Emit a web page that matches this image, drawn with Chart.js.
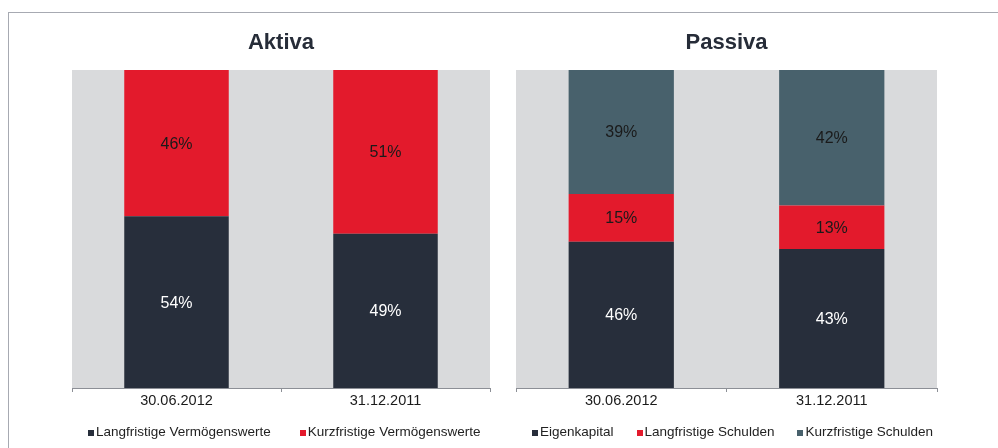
<!DOCTYPE html>
<html>
<head>
<meta charset="utf-8">
<script src="https://cdn.jsdelivr.net/npm/chart.js@4/dist/chart.umd.min.js"></script>
<style>
  html, body { margin: 0; padding: 0; background: #ffffff; }
  body { width: 998px; height: 448px; position: relative; overflow: hidden; font-family: "Liberation Sans", Arial, sans-serif; }
  #frame { position: absolute; left: 8px; top: 12px; width: 990px; height: 436px; border-top: 1px solid #a7aab2; border-left: 1px solid #a7aab2; box-sizing: border-box; }
  canvas { position: absolute; top: 0; }
  #c1 { left: 0; }
  #c2 { left: 500px; }
  .legend { position: absolute; top: 424px; display: flex; align-items: baseline; font-size: 13.5px; color: #222; white-space: nowrap; }
  .legend .item { display: flex; align-items: baseline; }
  .legend .box { display: inline-block; width: 6px; height: 6px; margin-right: 2px; }
  #l1 { left: 88px; gap: 29px; }
  #l2 { left: 532px; gap: 23px; }
</style>
</head>
<body>
<div id="frame"></div>
<canvas id="c1" width="500" height="448"></canvas>
<canvas id="c2" width="498" height="448"></canvas>
<div class="legend" id="l1"></div>
<div class="legend" id="l2"></div>
<script>
// ---- data ----
const categories = ['30.06.2012', '31.12.2011'];

const aktivaTitle = 'Aktiva';
const aktivaNames = ['Langfristige Vermögenswerte', 'Kurzfristige Vermögenswerte'];
const aktivaLangfristig = [54, 48.5];
const aktivaKurzfristig = [46, 51.5];
const aktivaLangfristigLabels = ['54%', '49%'];
const aktivaKurzfristigLabels = ['46%', '51%'];

const passivaTitle = 'Passiva';
const passivaNames = ['Eigenkapital', 'Langfristige Schulden', 'Kurzfristige Schulden'];
const passivaEigenkapital = [46, 43.7];
const passivaLangfristig = [15, 13.7];
const passivaKurzfristig = [39, 42.6];
const passivaEigenkapitalLabels = ['46%', '43%'];
const passivaLangfristigLabels = ['15%', '13%'];
const passivaKurzfristigLabels = ['39%', '42%'];

// ---- styles ----
const DARK = '#272e3b';
const RED = '#e31a2c';
const TEAL = '#48616c';
const PLOT_BG = '#d9dadc';
const AXIS = '#8c8f96';
const FONT = '"Liberation Sans", Arial, sans-serif';

const plotBg = {
  id: 'plotBg',
  beforeDraw(chart) {
    const a = chart.chartArea, ctx = chart.ctx;
    ctx.save();
    ctx.fillStyle = PLOT_BG;
    ctx.fillRect(a.left, a.top, a.right - a.left, a.bottom - a.top);
    ctx.restore();
  }
};

const barLabels = {
  id: 'barLabels',
  afterDatasetsDraw(chart) {
    const ctx = chart.ctx;
    ctx.save();
    ctx.font = '16px ' + FONT;
    ctx.textAlign = 'center';
    ctx.textBaseline = 'middle';
    chart.data.datasets.forEach((ds, di) => {
      const meta = chart.getDatasetMeta(di);
      meta.data.forEach((el, i) => {
        const p = el.getProps(['x', 'y', 'base'], true);
        ctx.fillStyle = ds.labelColor;
        ctx.fillText(ds.valueLabels[i], p.x, (p.y + p.base) / 2 + 1);
      });
    });
    ctx.restore();
  }
};

function makeChart(id, title, datasets, padL, padR) {
  return new Chart(document.getElementById(id), {
    type: 'bar',
    data: { labels: categories, datasets },
    plugins: [plotBg, barLabels],
    options: {
      responsive: false,
      animation: false,
      devicePixelRatio: 1,
      layout: { padding: { left: padL, right: padR, top: 0, bottom: 38.6 } },
      plugins: {
        legend: { display: false },
        tooltip: { enabled: false },
        title: {
          display: true, text: title, color: '#262c38',
          font: { family: FONT, size: 22, weight: 'bold' },
          padding: { top: 29.8, bottom: 13.8 }
        }
      },
      datasets: { bar: { categoryPercentage: 1, barPercentage: 0.5, borderWidth: 0 } },
      scales: {
        x: {
          stacked: true,
          grid: { offset: true, drawOnChartArea: false, drawTicks: true, tickLength: 4, color: AXIS, lineWidth: 1 },
          border: { display: true, color: AXIS, width: 1 },
          ticks: { padding: 0, color: '#1a1a1a', font: { family: FONT, size: 14.5 } }
        },
        y: { stacked: true, display: false, min: 0, max: 100 }
      }
    }
  });
}

makeChart('c1', aktivaTitle, [
  { label: aktivaNames[0], data: aktivaLangfristig, backgroundColor: DARK, valueLabels: aktivaLangfristigLabels, labelColor: '#ffffff' },
  { label: aktivaNames[1], data: aktivaKurzfristig, backgroundColor: RED, valueLabels: aktivaKurzfristigLabels, labelColor: '#1a1a1a' }
], 72, 10);

makeChart('c2', passivaTitle, [
  { label: passivaNames[0], data: passivaEigenkapital, backgroundColor: DARK, valueLabels: passivaEigenkapitalLabels, labelColor: '#ffffff' },
  { label: passivaNames[1], data: passivaLangfristig, backgroundColor: RED, valueLabels: passivaLangfristigLabels, labelColor: '#1a1a1a' },
  { label: passivaNames[2], data: passivaKurzfristig, backgroundColor: TEAL, valueLabels: passivaKurzfristigLabels, labelColor: '#1a1a1a' }
], 16, 61);

function buildLegend(id, names, colors) {
  const el = document.getElementById(id);
  names.forEach((n, i) => {
    const item = document.createElement('span');
    item.className = 'item';
    const b = document.createElement('span');
    b.className = 'box';
    b.style.background = colors[i];
    item.appendChild(b);
    item.appendChild(document.createTextNode(n));
    el.appendChild(item);
  });
}
buildLegend('l1', aktivaNames, [DARK, RED]);
buildLegend('l2', passivaNames, [DARK, RED, TEAL]);
</script>
</body>
</html>
